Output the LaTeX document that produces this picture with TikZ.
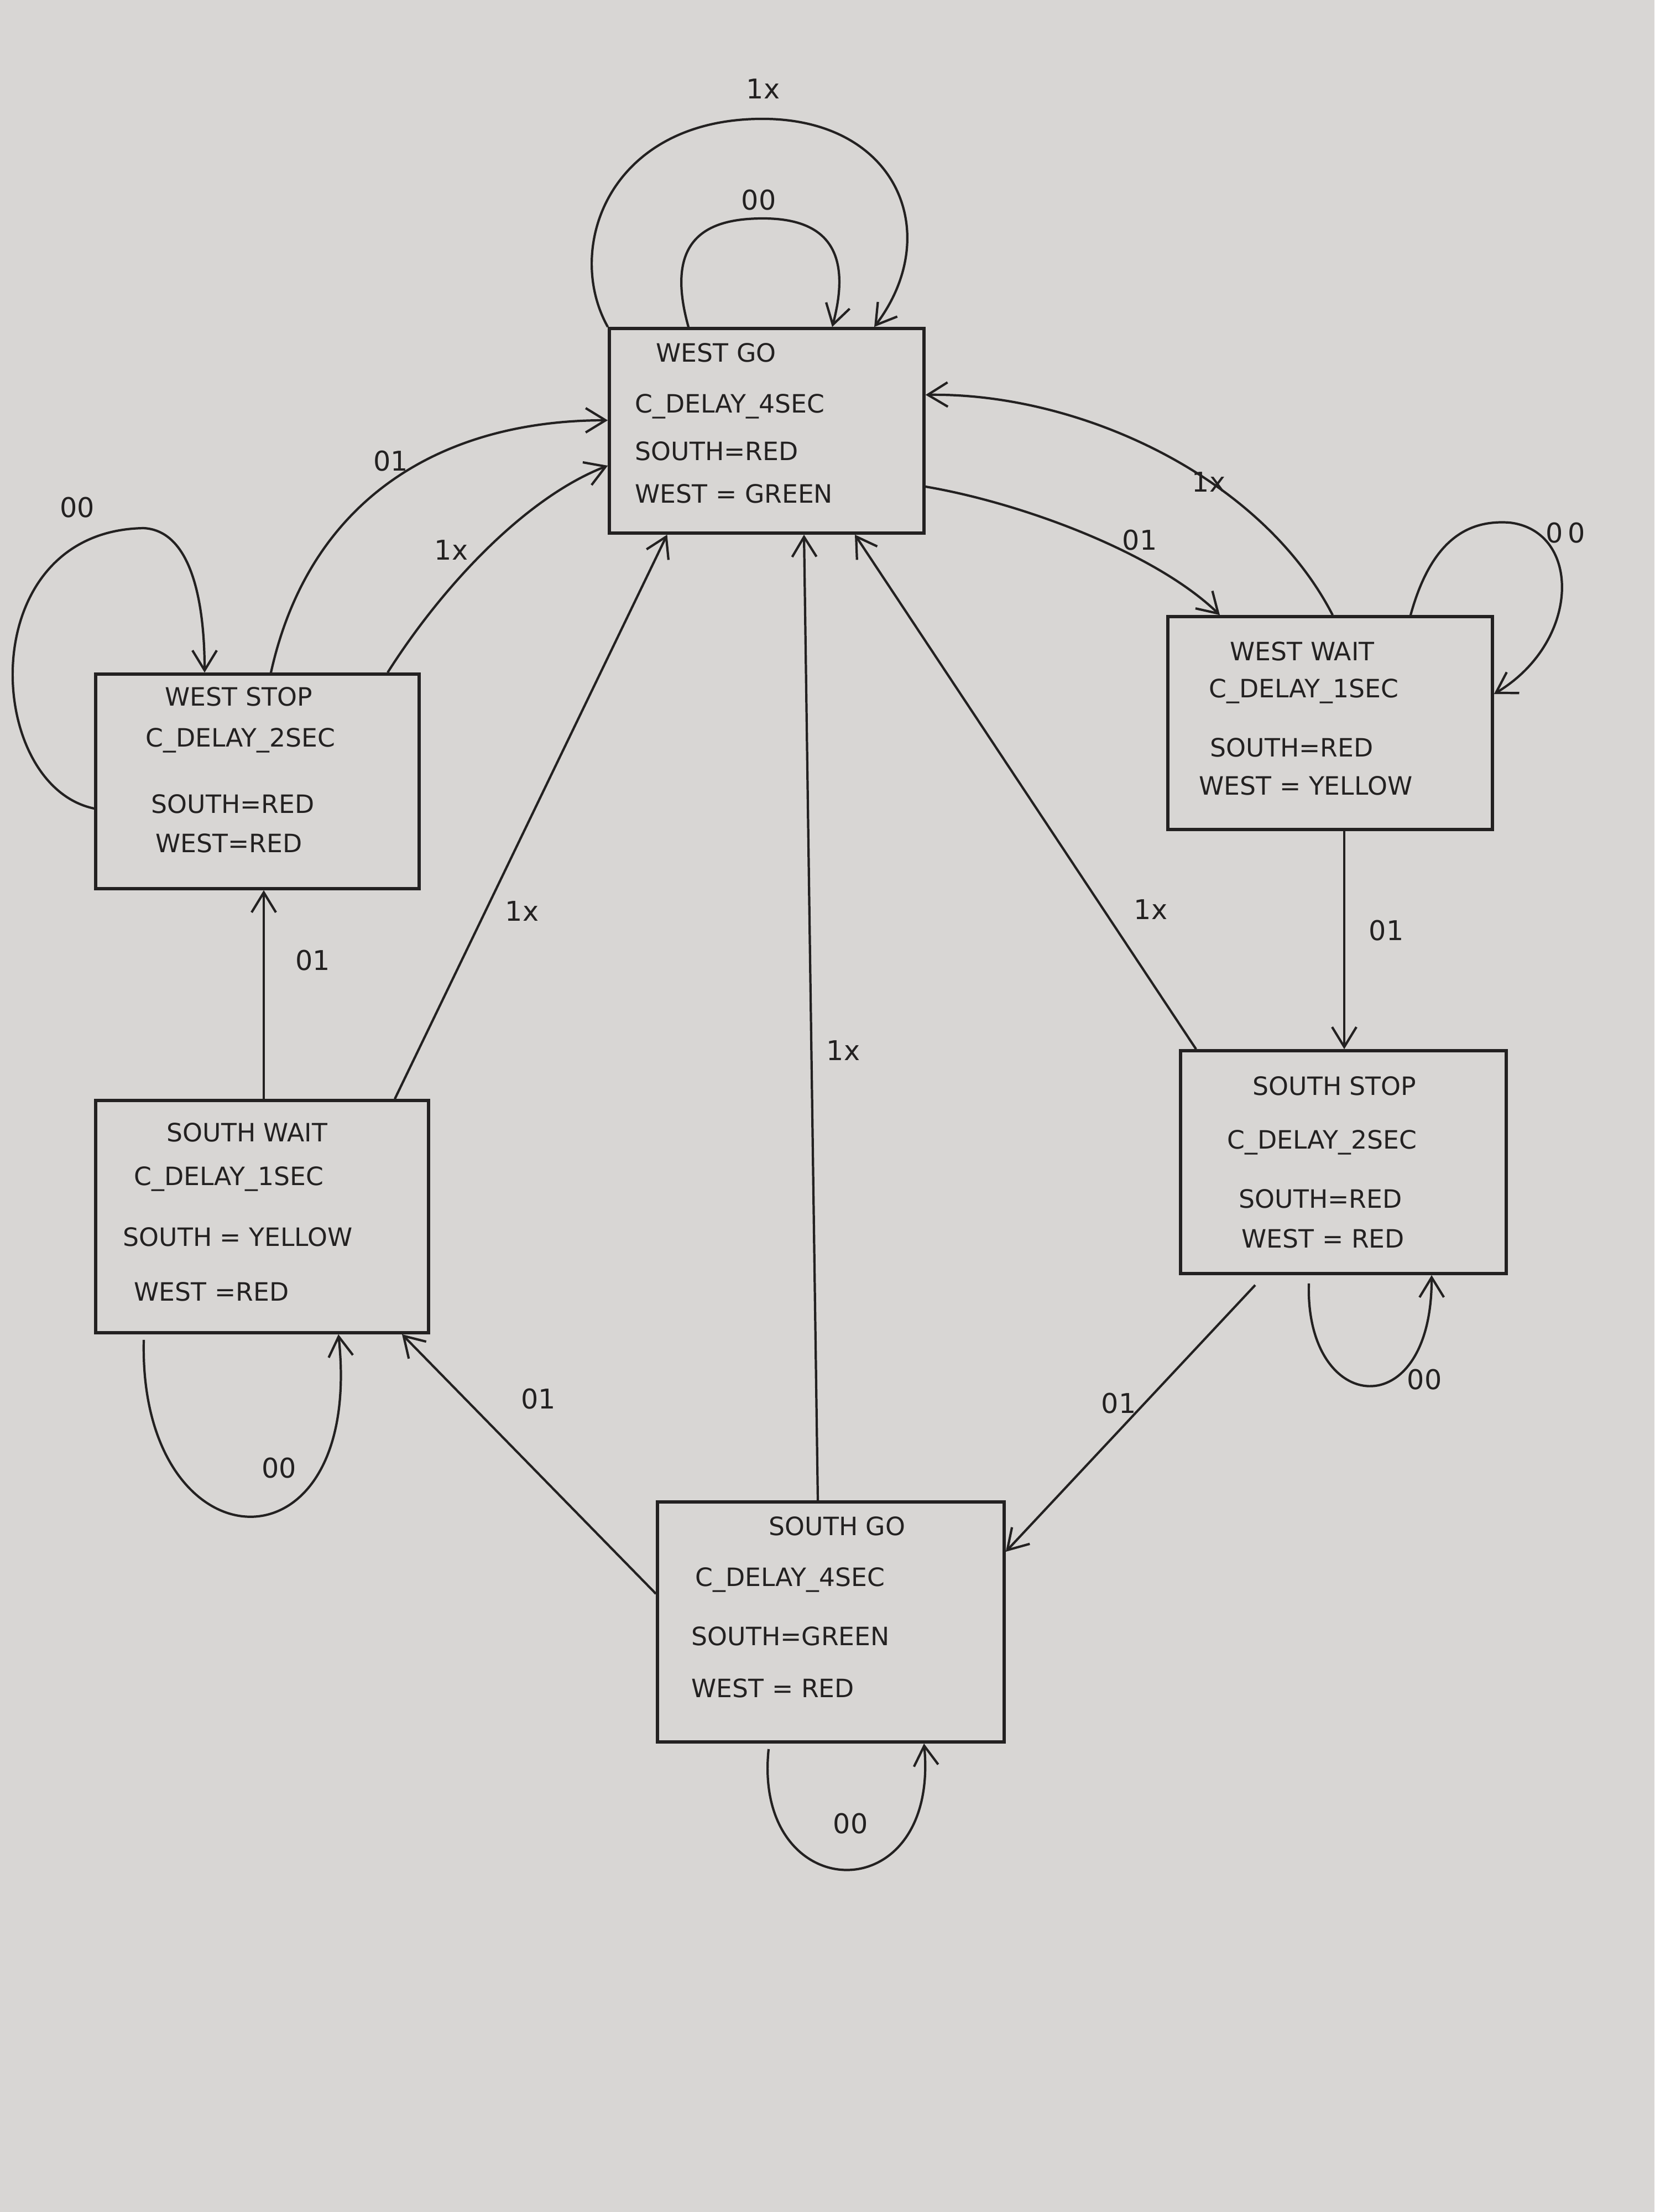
\documentclass[tikz,border=0pt]{standalone}
\usepackage{fontspec}
\setmainfont{DejaVu Sans}
\usetikzlibrary{arrows.meta,calc}
\definecolor{paper}{RGB}{216,214,212}
\definecolor{ink}{RGB}{35,33,33}
\begin{document}
\begin{tikzpicture}[
  state/.style={draw=ink, line width=1.6pt, rectangle, inner sep=0pt},
  txt/.style={anchor=west, inner sep=0pt, text=ink, font=\fontsize{13}{15}\selectfont},
  lbl/.style={inner sep=0pt, text=ink, font=\fontsize{14}{16}\selectfont},
  edge/.style={draw=ink, line width=1.2pt, -{Straight Barb[length=3.6mm,width=4.4mm,line width=1.2pt]}},
]
\fill[paper] (0,0) rectangle (29.92,-40);
\useasboundingbox (0,0) rectangle (29.92,-40);

% states
\node[state, minimum width=5.69cm, minimum height=3.70cm] (wg) at (13.865,-7.79) {};
\node[state, minimum width=5.85cm, minimum height=3.88cm] (ws) at (4.655,-14.13) {};
\node[state, minimum width=5.87cm, minimum height=3.85cm] (ww) at (24.055,-13.075) {};
\node[state, minimum width=6.02cm, minimum height=4.20cm] (sw) at (4.74,-22.0) {};
\node[state, minimum width=5.89cm, minimum height=4.03cm] (ss) at (24.295,-21.015) {};
\node[state, minimum width=6.27cm, minimum height=4.34cm] (sg) at (15.025,-29.33) {};

% texts
\node[txt] (wg1) at (11.86,-6.38) {WEST GO};
\node[txt] (wg2) at (11.48,-7.35) {C\_DELAY\_4SEC};
\node[txt] (wg3) at (11.48,-8.16) {SOUTH=RED};
\node[txt] (wg4) at (11.48,-8.93) {WEST = GREEN};

\node[txt] (ws1) at (2.98,-12.60) {WEST STOP};
\node[txt] (ws2) at (2.63,-13.39) {C\_DELAY\_2SEC};
\node[txt] (ws3) at (2.73,-14.54) {SOUTH=RED};
\node[txt] (ws4) at (2.81,-15.25) {WEST=RED};

\node[txt] (ww1) at (22.24,-11.78) {WEST WAIT};
\node[txt] (ww2) at (21.86,-12.50) {C\_DELAY\_1SEC};
\node[txt] (ww3) at (21.88,-13.52) {SOUTH=RED};
\node[txt] (ww4) at (21.68,-14.21) {WEST = YELLOW};

\node[txt] (sw1) at (3.01,-20.48) {SOUTH WAIT};
\node[txt] (sw2) at (2.42,-21.32) {C\_DELAY\_1SEC};
\node[txt] (sw3) at (2.22,-22.37) {SOUTH = YELLOW};
\node[txt] (sw4) at (2.42,-23.36) {WEST =RED};

\node[txt] (ss1) at (22.65,-19.64) {SOUTH STOP};
\node[txt] (ss2) at (22.19,-20.66) {C\_DELAY\_2SEC};
\node[txt] (ss3) at (22.40,-21.68) {SOUTH=RED};
\node[txt] (ss4) at (22.45,-22.40) {WEST = RED};

\node[txt] (sg1) at (13.90,-27.60) {SOUTH GO};
\node[txt] (sg2) at (12.57,-28.57) {C\_DELAY\_4SEC};
\node[txt] (sg3) at (12.50,-29.59) {SOUTH=GREEN};
\node[txt] (sg4) at (12.50,-30.53) {WEST = RED};

% WEST GO self loops
\draw[edge] (wg.north west) .. controls (10.2,-4.5) and (11.0,-2.2) .. (13.7,-2.15)
  .. controls (16.2,-2.1) and (17.1,-4.2) .. ([xshift=1.945cm]wg.north);
\node[lbl] (l1) at (13.80,-1.61) {1x};
\draw[edge] ([xshift=-1.415cm]wg.north) .. controls (12.0,-4.3) and (12.8,-3.95) .. (13.8,-3.95)
  .. controls (15.0,-3.95) and (15.4,-4.6) .. ([xshift=1.185cm]wg.north);
\node[lbl] (l2) at (13.72,-3.62) {00};

% WEST GO <-> WEST WAIT
\draw[edge] ([yshift=-1.01cm]wg.east) .. controls (18.5,-9.1) and (20.9,-10.0) .. ([xshift=-1.995cm]ww.north);
\node[lbl] (l3) at (20.61,-9.77) {01};
\draw[edge] ([xshift=0.045cm]ww.north) .. controls (22.8,-8.6) and (19.5,-7.1) .. ([yshift=0.65cm]wg.east);
\node[lbl] (l4) at (21.86,-8.72) {1x};

% WEST WAIT self loop
\draw[edge] ([xshift=1.455cm]ww.north) .. controls (25.9,-9.7) and (26.6,-9.4) .. (27.3,-9.45)
  .. controls (28.6,-9.6) and (28.6,-11.6) .. ([yshift=0.525cm]ww.east);
\node[lbl] (l5) at (28.31,-9.64) {0\,0};

% WEST WAIT -> SOUTH STOP
\draw[edge] ([xshift=0.255cm]ww.south) -- ([xshift=0.015cm]ss.north);
\node[lbl] (l6) at (25.07,-16.83) {01};

% SOUTH STOP -> WEST GO
\draw[edge] ([xshift=-2.665cm]ss.north) -- ([xshift=1.595cm]wg.south);
\node[lbl] (l7) at (20.81,-16.45) {1x};

% SOUTH STOP self loop
\draw[edge] ([xshift=-0.625cm,yshift=-0.15cm]ss.south) .. controls (23.6,-25.6) and (25.9,-25.8) .. ([xshift=1.595cm]ss.south);
\node[lbl] (l8) at (25.76,-24.95) {00};

% SOUTH STOP -> SOUTH GO
\draw[edge] ([xshift=-1.595cm,yshift=-0.18cm]ss.south) -- ([yshift=1.27cm]sg.east);
\node[lbl] (l9) at (20.23,-25.38) {01};

% SOUTH GO -> WEST GO
\draw[edge] ([xshift=-0.235cm]sg.north) -- ([xshift=0.675cm]wg.south);
\node[lbl] (l10) at (15.25,-19.00) {1x};

% SOUTH GO self loop
\draw[edge] ([xshift=-1.125cm,yshift=-0.1cm]sg.south) .. controls (13.6,-34.5) and (17.0,-34.6) .. ([xshift=1.685cm]sg.south);
\node[lbl] (l11) at (15.38,-32.98) {00};

% SOUTH GO -> SOUTH WAIT
\draw[edge] ([yshift=0.51cm]sg.west) -- ([xshift=2.53cm]sw.south);
\node[lbl] (l12) at (9.74,-25.30) {01};

% SOUTH WAIT -> WEST GO
\draw[edge] ([xshift=2.40cm]sw.north) -- ([xshift=-1.8cm]wg.south);
\node[lbl] (l13) at (9.44,-16.48) {1x};

% SOUTH WAIT self loop
\draw[edge] ([xshift=-2.14cm,yshift=-0.1cm]sw.south) .. controls (2.5,-28.4) and (6.6,-28.6) .. ([xshift=1.38cm]sw.south);
\node[lbl] (l14) at (5.05,-26.55) {00};

% SOUTH WAIT -> WEST STOP
\draw[edge] ([xshift=0.03cm]sw.north) -- ([xshift=0.115cm]ws.south);
\node[lbl] (l15) at (5.66,-17.37) {01};

% WEST STOP -> WEST GO
\draw[edge] ([xshift=0.245cm]ws.north) .. controls (5.6,-9.0) and (8.0,-7.6) .. ([yshift=0.19cm]wg.west);
\node[lbl] (l16) at (7.07,-8.34) {01};
\draw[edge] ([xshift=2.355cm]ws.north) .. controls (8.0,-10.6) and (9.5,-9.0) .. ([yshift=-0.63cm]wg.west);
\node[lbl] (l17) at (8.16,-9.95) {1x};

% WEST STOP self loop
\draw[edge] ([yshift=-0.49cm]ws.west) .. controls (-0.3,-14.2) and (-0.5,-9.6) .. (2.6,-9.55)
  .. controls (3.5,-9.6) and (3.7,-11.0) .. ([xshift=-0.955cm]ws.north);
\node[lbl] (l18) at (1.40,-9.18) {00};
\end{tikzpicture}
\end{document}
